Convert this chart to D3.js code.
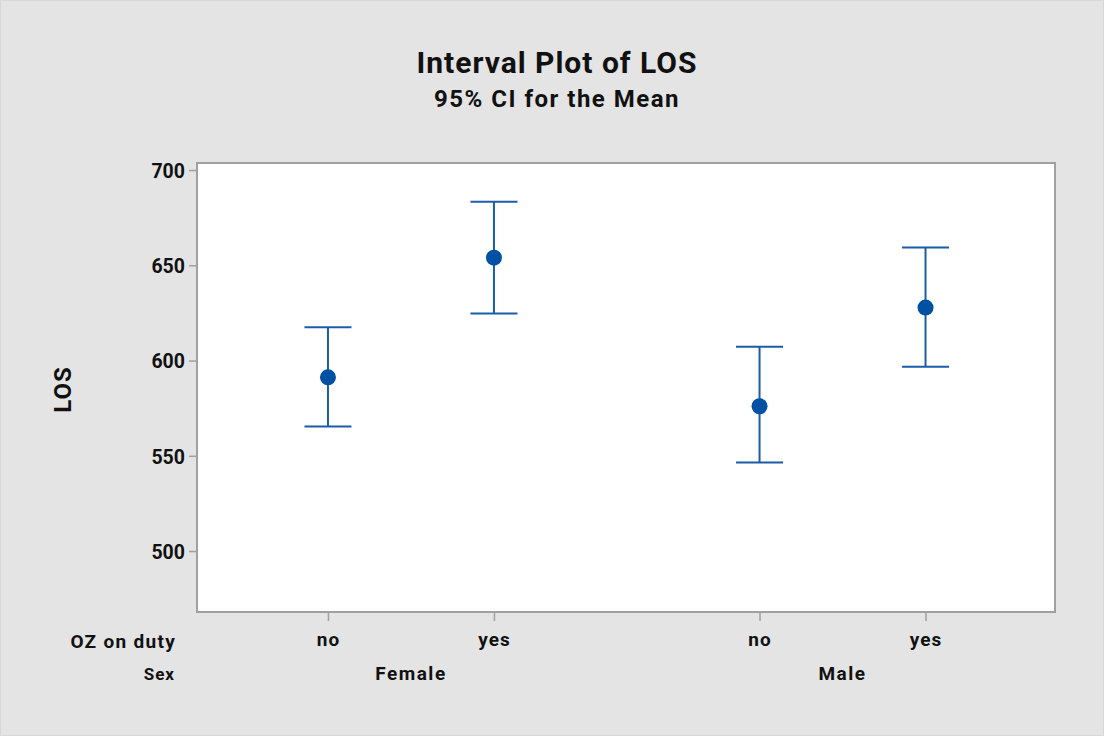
<!DOCTYPE html>
<html><head><meta charset="utf-8">
<script src="https://cdn.jsdelivr.net/npm/d3@7/dist/d3.min.js"></script>
<style>body{margin:0;background:#e4e4e4;} text{font-family:Roboto,"Liberation Sans",sans-serif;}</style>
</head><body>
<script>
const sexGroups = ["Female", "Male"];
const ozLevels = ["no", "yes", "no", "yes"];
const groupOf = ["Female", "Female", "Male", "Male"];
const positions = [0, 1, 2.6, 3.6];
const means = [591.2, 654.0, 576.0, 627.8];
const lower = [565.4, 624.7, 546.5, 596.7];
const upper = [617.5, 683.4, 607.3, 659.4];
const yTicks = [500, 550, 600, 650, 700];

const W = 1104, H = 736;
const m = {left: 197, top: 163, right: 1055, bottom: 612};
const svg = d3.select("body").append("svg").attr("width", W).attr("height", H);
svg.append("rect").attr("x",0.5).attr("y",0.5).attr("width",W-1).attr("height",H-1)
  .attr("fill","#e4e4e4").attr("stroke","#d8d8d8");

const x = d3.scaleLinear().domain([-0.789, 4.38]).range([m.left, m.right]);
const y = d3.scaleLinear().domain([468, 703.7]).range([m.bottom, m.top]);

svg.append("rect").attr("x", m.left).attr("y", m.top)
  .attr("width", m.right - m.left).attr("height", m.bottom - m.top)
  .attr("fill", "#fff").attr("stroke", "#a0a0a0").attr("stroke-width", 2);

// Y axis
const yAxis = svg.append("g").attr("transform", `translate(${m.left-1},0)`)
  .call(d3.axisLeft(y).tickValues(yTicks).tickSize(7).tickPadding(4));
yAxis.select(".domain").remove();
yAxis.selectAll(".tick line").attr("stroke", "#a0a0a0").attr("stroke-width", 1.5);
yAxis.selectAll(".tick text").attr("font-size", 19.5).attr("font-weight", "bold").attr("fill", "#111")
  .attr("dy", "0.38em").attr("font-family", "Roboto, sans-serif");

// X axis
const xAxis = svg.append("g").attr("transform", `translate(0,${m.bottom+1})`)
  .call(d3.axisBottom(x).tickValues(positions).tickSize(8).tickPadding(12).tickFormat((d,i)=>ozLevels[i]));
xAxis.select(".domain").remove();
xAxis.selectAll(".tick line").attr("stroke", "#a0a0a0").attr("stroke-width", 1.5);
xAxis.selectAll(".tick text").attr("font-size", 19).attr("font-weight", "bold").attr("fill", "#111")
  .attr("letter-spacing", 1).attr("font-family", "Roboto, sans-serif");

svg.append("text").attr("x", 176).attr("y", 648).attr("text-anchor", "end")
  .attr("font-size", 19).attr("letter-spacing", 1.3).attr("font-weight", "bold").attr("fill", "#111").text("OZ on duty");
svg.append("text").attr("x", 175).attr("y", 680).attr("text-anchor", "end")
  .attr("font-size", 17).attr("letter-spacing", 1).attr("font-weight", "bold").attr("fill", "#111").text("Sex");

sexGroups.forEach(g => {
  const ps = positions.filter((p,i) => groupOf[i] === g);
  svg.append("text").attr("x", x(d3.mean(ps))).attr("y", 680).attr("text-anchor", "middle")
    .attr("font-size", 19).attr("letter-spacing", 1.5).attr("font-weight", "bold").attr("fill", "#111").text(g);
});

// Titles
svg.append("text").attr("x", 557).attr("y", 73).attr("text-anchor", "middle")
  .attr("font-size", 30).attr("letter-spacing", 1).attr("font-weight", "bold").attr("fill", "#111").text("Interval Plot of LOS");
svg.append("text").attr("x", 557).attr("y", 107).attr("text-anchor", "middle")
  .attr("font-size", 24).attr("letter-spacing", 1.5).attr("font-weight", "bold").attr("fill", "#111").text("95% CI for the Mean");
svg.append("text").attr("transform", `translate(71,${(m.top+m.bottom)/2 + 2}) rotate(-90)`)
  .attr("text-anchor", "middle").attr("font-size", 24).attr("letter-spacing", 1).attr("font-weight", "bold").attr("fill", "#111").text("LOS");

// Intervals
const col = "#1a5ca8";
const capHalf = 23.5;
const gI = svg.append("g");
positions.forEach((p, i) => {
  const cx = x(p);
  gI.append("line").attr("x1", cx).attr("x2", cx).attr("y1", y(lower[i])).attr("y2", y(upper[i]))
    .attr("stroke", col).attr("stroke-width", 2);
  [lower[i], upper[i]].forEach(v => {
    gI.append("line").attr("x1", cx - capHalf).attr("x2", cx + capHalf).attr("y1", y(v)).attr("y2", y(v))
      .attr("stroke", col).attr("stroke-width", 2);
  });
  gI.append("circle").attr("cx", cx).attr("cy", y(means[i])).attr("r", 8).attr("fill", "#0050a4");
});
</script>
</body></html>
